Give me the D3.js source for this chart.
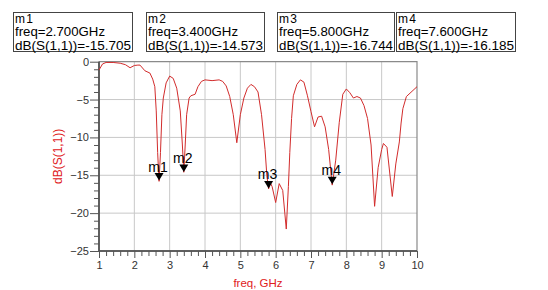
<!DOCTYPE html>
<html><head><meta charset="utf-8">
<script src="https://cdn.jsdelivr.net/npm/d3@7"></script>
<style>body{margin:0;background:#fff}svg{display:block}</style>
</head><body>
<svg id="c" width="548" height="290"></svg>
<script>
const freq = [1.0,1.1,1.2,1.4,1.6,1.75,1.88,2.0,2.1,2.16,2.3,2.44,2.52,2.58,2.62,2.66,2.70,2.74,2.78,2.82,2.9,3.0,3.1,3.2,3.3,3.36,3.40,3.44,3.48,3.55,3.6,3.72,3.8,3.9,4.0,4.2,4.4,4.5,4.6,4.7,4.8,4.9,5.0,5.1,5.2,5.3,5.4,5.5,5.6,5.7,5.75,5.8,5.85,5.9,6.0,6.1,6.2,6.3,6.36,6.4,6.45,6.5,6.6,6.7,6.8,6.9,7.0,7.1,7.2,7.3,7.4,7.5,7.6,7.7,7.8,7.9,8.0,8.1,8.2,8.3,8.4,8.5,8.6,8.7,8.8,8.9,9.0,9.05,9.15,9.3,9.4,9.5,9.55,9.6,9.7,10.0];
const s11 = [-1.1,-0.3,-0.1,-0.1,-0.2,-0.4,-0.8,-0.5,-0.45,-0.45,-1.2,-1.5,-2.3,-3.3,-6.5,-12.0,-15.8,-12.0,-7.0,-4.8,-2.8,-1.9,-2.2,-3.5,-6.5,-11.0,-14.6,-11.0,-7.0,-4.8,-4.5,-4.3,-3.3,-2.6,-2.4,-2.5,-2.4,-2.6,-3.2,-4.6,-7.0,-10.7,-7.0,-4.8,-3.5,-3.0,-3.3,-4.0,-7.0,-11.6,-15.0,-16.8,-16.0,-16.5,-18.6,-16.1,-17.0,-22.1,-16.5,-12.0,-7.5,-4.5,-3.0,-2.4,-2.7,-4.5,-6.6,-8.6,-7.3,-7.2,-8.6,-11.6,-16.3,-13.0,-8.0,-4.3,-3.6,-4.1,-4.8,-4.6,-4.8,-5.8,-7.5,-11.0,-19.1,-14.0,-11.6,-10.8,-11.3,-17.8,-13.5,-10.6,-8.1,-6.2,-4.6,-3.3];
const markerNames = ["m1","m2","m3","m4"];
const markerFreq = [2.7,3.4,5.8,7.6];
const markerVal = [-15.705,-14.573,-16.744,-16.185];
const xTicks = [1,2,3,4,5,6,7,8,9,10];
const yTicks = [0,-5,-10,-15,-20,-25];

const svg = d3.select("#c");
const font = "'Liberation Sans', Arial, sans-serif";
const x = d3.scaleLinear().domain([1,10]).range([99,417]);
const y = d3.scaleLinear().domain([0,-25]).range([61.7,251]);

// grid
svg.append("g").selectAll("line").data(xTicks.slice(1,-1)).join("line")
  .attr("x1",d=>x(d)).attr("x2",d=>x(d)).attr("y1",y(0)).attr("y2",y(-25))
  .attr("stroke","#c8c8c8").attr("stroke-width",1);
svg.append("g").selectAll("line").data(yTicks.slice(1,-1)).join("line")
  .attr("y1",d=>y(d)).attr("y2",d=>y(d)).attr("x1",x(1)).attr("x2",x(10))
  .attr("stroke","#c8c8c8").attr("stroke-width",1);
// top/right frame
svg.append("path").attr("d",`M${x(1)},${y(0)}H${x(10)}V${y(-25)}`)
  .attr("fill","none").attr("stroke","#8a8a8a").attr("stroke-width",1.2);

// axes
const xMinor = d3.range(10,101,2).map(v=>v/10).filter(v=>!xTicks.includes(v));
const yMinor = d3.range(-25,1,1).filter(v=>!yTicks.includes(v));
const gx = svg.append("g").attr("transform",`translate(0,${y(-25)})`)
  .call(d3.axisBottom(x).tickValues(xMinor).tickSize(5).tickFormat(""));
const gx2 = svg.append("g").attr("transform",`translate(0,${y(-25)})`)
  .call(d3.axisBottom(x).tickValues(xTicks).tickSize(7).tickPadding(3).tickFormat(d3.format("d")));
const gy = svg.append("g").attr("transform",`translate(${x(1)},0)`)
  .call(d3.axisLeft(y).tickValues(yMinor).tickSize(5).tickFormat(""));
const gy2 = svg.append("g").attr("transform",`translate(${x(1)},0)`)
  .call(d3.axisLeft(y).tickValues(yTicks).tickSize(9).tickPadding(1).tickFormat(d3.format("d")));
[gx,gx2,gy,gy2].forEach(g=>{
  g.select(".domain").attr("stroke","#555").attr("stroke-width",1.5);
  g.selectAll(".tick line").attr("stroke","#555");
  g.selectAll("text").attr("font-family",font).attr("font-size",11).attr("fill","#333");
});
gx2.selectAll(".domain").attr("d",`M${x(1)},0H${x(10)}`);
gy2.selectAll(".domain").attr("d",`M0,${y(0)}V${y(-25)}`);
gx.selectAll(".domain").attr("d",`M${x(1)},0H${x(10)}`);
gy.selectAll(".domain").attr("d",`M0,${y(0)}V${y(-25)}`);

// curve
const line = d3.line().x(d=>x(d[0])).y(d=>y(d[1]));
svg.append("path").datum(freq.map((f,i)=>[f,s11[i]]))
  .attr("d",line).attr("fill","none").attr("stroke","#d22c2c").attr("stroke-width",1);

// axis labels
svg.append("text").attr("x",(x(1)+x(10))/2).attr("y",287).attr("text-anchor","middle")
  .attr("font-family",font).attr("font-size",11.5).attr("fill","#e0201c").text("freq, GHz");
svg.append("text").attr("transform",`translate(62,${(y(0)+y(-25))/2}) rotate(-90)`)
  .attr("text-anchor","middle").attr("font-family",font).attr("font-size",12)
  .attr("fill","#e0201c").text("dB(S(1,1))");

// markers
const mk = svg.append("g");
markerNames.forEach((n,i)=>{
  const mx = x(markerFreq[i]), my = y(markerVal[i]);
  mk.append("path").attr("d",`M${mx},${my}L${mx-4.5},${my-7.5}L${mx+4.5},${my-7.5}Z`).attr("fill","#000");
  mk.append("text").attr("x",mx-1).attr("y",my-9).attr("text-anchor","middle")
    .attr("font-family",font).attr("font-size",14).attr("fill","#000").text(n);
});

// marker boxes
const boxX = [13,146,277,396];
const boxW = [119,118,117,119];
const boxes = svg.append("g");
markerNames.forEach((n,i)=>{
  boxes.append("rect").attr("x",boxX[i]+0.5).attr("y",12.5).attr("width",boxW[i]).attr("height",39)
    .attr("fill","#fff").attr("stroke","#444").attr("stroke-width",1);
  const lines = [n, `freq=${markerFreq[i].toFixed(3)}GHz`, `dB(S(1,1))=${markerVal[i].toFixed(3)}`];
  const lens = [null, 90, boxW[i]-3];
  lines.forEach((t,j)=>{
    const tx = boxes.append("text").attr("x",boxX[i]+2).attr("y",23+j*13.3)
      .attr("font-family",font).attr("font-size",12).attr("fill","#000").text(t);
    if(lens[j]) tx.attr("textLength",lens[j]).attr("lengthAdjust","spacingAndGlyphs");
    else tx.attr("textLength",18).attr("lengthAdjust","spacing");
  });
});
</script>
</body></html>
